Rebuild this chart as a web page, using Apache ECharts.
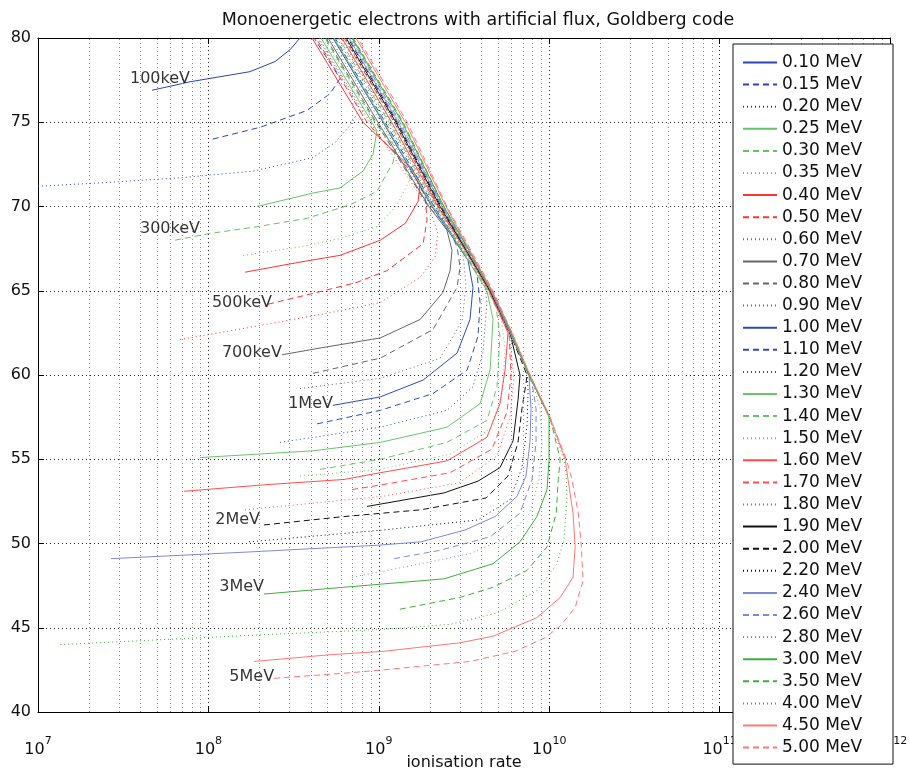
<!DOCTYPE html>
<html><head><meta charset="utf-8">
<script src="https://cdn.jsdelivr.net/npm/echarts@6/dist/echarts.min.js"></script>
<style>html,body{margin:0;padding:0;background:#fff}#c{width:909px;height:772px}</style>
</head><body><div id="c"></div>
<script>
// ---- data: [ionisation rate, altitude] ----
const energyNames = ['0.10 MeV','0.15 MeV','0.20 MeV','0.25 MeV','0.30 MeV','0.35 MeV','0.40 MeV','0.50 MeV','0.60 MeV','0.70 MeV','0.80 MeV','0.90 MeV','1.00 MeV','1.10 MeV','1.20 MeV','1.30 MeV','1.40 MeV','1.50 MeV','1.60 MeV','1.70 MeV','1.80 MeV','1.90 MeV','2.00 MeV','2.20 MeV','2.40 MeV','2.60 MeV','2.80 MeV','3.00 MeV','3.50 MeV','4.00 MeV','4.50 MeV','5.00 MeV'];

const c010 = [[4.67e7,76.9],[7.80e7,77.4],[1.75e8,78.0],[2.46e8,78.6],[3.01e8,79.3],[3.45e8,80]];
const c015 = [[1.06e8,74.0],[2.01e8,74.7],[3.79e8,75.7],[5.18e8,76.7],[5.92e8,77.6],[4.17e8,80]];
const c020 = [[1.00e7,71.2],[2.31e7,71.4],[6.81e7,71.7],[1.83e8,72.1],[4.11e8,72.9],[5.53e8,73.8],[6.78e8,74.8],[7.76e8,75.8],[4.40e8,80]];
const c025 = [[1.93e8,70.0],[4.11e8,70.8],[5.92e8,71.1],[8.07e8,72.1],[9.25e8,73.1],[9.75e8,74.5],[9.12e8,75],[4.58e8,80]];
const c030 = [[6.37e7,68.0],[1.02e8,68.4],[1.93e8,68.8],[3.79e8,69.3],[6.78e8,70.1],[9.75e8,70.9],[1.21e9,72.6],[1.26e9,73.5],[9.50e8,75],[4.83e8,80]];
const c035 = [[1.60e8,67.1],[3.45e8,67.6],[5.92e8,68.1],[9.75e8,68.8],[1.28e9,70.1],[1.52e9,71.6],[1.41e9,72.5],[9.38e8,75],[4.71e8,80]];
const c040 = [[1.64e8,66.1],[3.45e8,66.7],[5.92e8,67.1],[1.02e9,68.0],[1.43e9,69.0],[1.70e9,70.3],[1.75e9,71.4],[1.57e9,72.2],[1.19e9,73.4],[8.07e8,75],[4.06e8,80]];
const c050 = [[2.24e8,64.2],[4.34e8,64.9],[7.45e8,65.5],[1.12e9,66.2],[1.82e9,67.8],[1.92e9,69.2],[1.87e9,70.6],[1.63e9,71.8],[8.53e8,75],[4.28e8,80]];
const c060 = [[6.81e7,62.1],[1.69e8,62.8],[5.18e8,63.7],[1.02e9,64.3],[1.75e9,65.8],[2.14e9,67.0],[2.22e9,68.4],[2.00e9,69.8],[8.87e8,75],[4.46e8,80]];
const c070 = [[2.70e8,61.2],[4.52e8,61.6],[1.02e9,62.2],[1.75e9,63.3],[2.38e9,64.9],[2.62e9,66.2],[2.69e9,67.4],[2.51e9,68.6],[1.97e9,70],[9.89e8,75],[5.04e8,80]];
const c080 = [[4.11e8,60.1],[1.02e9,61.0],[2.08e9,62.7],[2.88e9,65.2],[3.00e9,66.4],[2.88e9,67.6],[2.55e9,68.8],[1.95e9,70],[9.64e8,75],[4.90e8,80]];
const c090 = [[3.45e8,59.2],[1.02e9,59.8],[2.29e9,61.0],[3.08e9,63.2],[3.25e9,65.3],[3.12e9,67.2],[2.80e9,68.6],[2.02e9,70],[1.03e9,75],[5.18e8,80]];
const c100 = [[5.38e8,58.2],[1.02e9,58.7],[1.82e9,59.7],[2.88e9,61.3],[3.43e9,63.3],[3.57e9,65.2],[3.34e9,66.8],[3.00e9,67.5],[2.05e9,70],[1.06e9,75],[5.38e8,80]];
const c110 = [[4.34e8,57.1],[1.02e9,57.9],[2.08e9,58.9],[3.30e9,60.3],[3.82e9,62.3],[3.93e9,64.3],[3.77e9,66.0],[3.03e9,67.5],[2.11e9,70],[1.09e9,75],[5.53e8,80]];
const c120 = [[2.63e8,56.0],[1.02e9,56.9],[2.51e9,57.9],[3.57e9,59.3],[4.08e9,61.3],[4.31e9,64.3],[4.14e9,65.8],[3.08e9,67.5],[2.14e9,70],[1.12e9,75],[5.69e8,80]];
const c130 = [[8.93e7,55.1],[4.11e8,55.5],[1.02e9,56.0],[2.51e9,56.9],[3.93e9,58.3],[4.50e9,60.3],[4.68e9,63.3],[4.31e9,65],[3.03e9,67.5],[2.08e9,70],[1.07e9,75],[5.46e8,80]];
const c140 = [[4.52e8,54.4],[1.02e9,55.0],[2.51e9,56.0],[4.31e9,57.3],[4.94e9,59.3],[5.14e9,62.3],[4.88e9,64.0],[4.37e9,65],[3.08e9,67.5],[2.17e9,70],[1.15e9,75],[5.83e8,80]];
const c150 = [[3.45e8,54.0],[1.02e9,54.4],[2.62e9,55.3],[4.50e9,56.8],[5.28e9,58.8],[5.51e9,61.5],[5.21e9,63.5],[4.37e9,65],[3.12e9,67.5],[2.20e9,70],[1.16e9,75],[6.00e8,80]];
const c160 = [[7.19e7,53.1],[2.24e8,53.5],[6.25e8,53.8],[1.02e9,54.2],[2.51e9,54.9],[4.31e9,56.3],[5.14e9,58.3],[5.51e9,60.3],[5.73e9,62.5],[4.44e9,65],[3.16e9,67.5],[2.22e9,70],[1.19e9,75],[6.08e8,80]];
const c170 = [[6.97e8,53.2],[1.06e9,53.5],[2.62e9,54.2],[4.61e9,55.6],[5.65e9,57.8],[5.97e9,60.0],[5.81e9,62.5],[4.44e9,65],[3.21e9,67.5],[2.25e9,70],[1.23e9,75],[6.25e8,80]];
const c180 = [[1.64e8,52.0],[1.06e9,52.8],[2.96e9,53.6],[4.94e9,55.2],[5.89e9,57.5],[6.21e9,59.8],[5.81e9,62.5],[4.44e9,65],[3.16e9,67.5],[2.20e9,70],[1.18e9,75],[6.00e8,80]];
const c190 = [[8.53e8,52.2],[2.41e9,53.0],[3.82e9,53.7],[5.14e9,54.5],[6.14e9,56.1],[6.56e9,58.5],[6.74e9,60.0],[5.89e9,62.5],[4.50e9,65],[3.21e9,67.5],[2.29e9,70],[1.26e9,75],[6.43e8,80]];
const c200 = [[2.12e8,51.1],[6.25e8,51.6],[1.77e9,52.0],[4.26e9,52.7],[5.73e9,54.0],[6.56e9,56.0],[6.92e9,58.0],[7.31e9,59.5],[7.41e9,60],[5.89e9,62.5],[4.50e9,65],[3.25e9,67.5],[2.32e9,70],[1.28e9,75],[6.59e8,80]];
const c220 = [[1.73e8,50.1],[1.06e9,50.8],[3.82e9,51.4],[5.89e9,52.6],[6.92e9,54.5],[7.41e9,57.0],[7.52e9,59.0],[7.41e9,60.3],[5.81e9,62.5],[4.50e9,65],[3.21e9,67.5],[2.25e9,70],[1.24e9,75],[6.34e8,80]];
const c240 = [[2.68e7,49.1],[1.75e8,49.5],[1.00e9,49.9],[1.77e9,50.1],[3.21e9,50.8],[4.81e9,51.6],[6.47e9,52.8],[7.31e9,54.0],[7.71e9,56.0],[7.82e9,58.0],[7.61e9,60],[5.89e9,62.5],[4.55e9,65],[3.25e9,67.5],[2.35e9,70],[1.30e9,75],[6.68e8,80]];
const c260 = [[1.23e9,49.1],[2.29e9,49.6],[4.50e9,50.4],[6.74e9,51.8],[7.93e9,53.8],[8.37e9,56.0],[8.37e9,58.0],[7.93e9,59.5],[5.97e9,62.5],[4.55e9,65],[3.30e9,67.5],[2.38e9,70],[1.33e9,75],[6.87e8,80]];
const c280 = [[6.97e8,48.0],[1.77e9,48.8],[3.43e9,49.4],[5.51e9,50.3],[7.71e9,51.8],[8.71e9,53.8],[9.08e9,56.0],[8.83e9,58.0],[8.04e9,59.5],[5.89e9,62.5],[4.55e9,65],[3.30e9,67.5],[2.35e9,70],[1.32e9,75],[6.78e8,80]];
const c300 = [[2.12e8,47.0],[1.06e9,47.6],[2.41e9,47.9],[4.68e9,48.8],[6.74e9,50.1],[8.47e9,51.6],[9.71e9,53.2],[9.98e9,55.0],[9.98e9,57.5],[7.61e9,60],[5.97e9,62.5],[4.61e9,65],[3.34e9,67.5],[2.41e9,70],[1.37e9,75],[6.97e8,80]];
const c350 = [[1.33e9,46.1],[3.00e9,46.8],[4.68e9,47.4],[7.41e9,48.4],[9.71e9,49.8],[1.10e10,51.8],[1.13e10,53.8],[1.16e10,55.0],[1.01e10,57.5],[7.61e9,60],[5.97e9,62.5],[4.61e9,65],[3.34e9,67.5],[2.41e9,70],[1.39e9,75],[7.06e8,80]];
const c400 = [[1.35e7,44.0],[2.24e8,44.6],[1.06e9,44.9],[2.62e9,45.2],[5.01e9,45.9],[8.47e9,47.2],[1.11e10,48.8],[1.22e10,50.2],[1.27e10,52.6],[1.26e10,54.0],[1.22e10,55],[9.98e9,57.5],[7.61e9,60],[5.97e9,62.5],[4.55e9,65],[3.30e9,67.5],[2.38e9,70],[1.35e9,75],[6.97e8,80]];
const c450 = [[1.85e8,43.0],[5.18e8,43.4],[1.06e9,43.6],[2.96e9,44.1],[4.68e9,44.5],[8.47e9,45.6],[1.16e10,46.8],[1.38e10,48.0],[1.42e10,49.8],[1.38e10,51.8],[1.29e10,53.8],[1.24e10,55],[1.01e10,57.5],[7.71e9,60],[6.05e9,62.5],[4.61e9,65],[3.38e9,67.5],[2.48e9,70],[1.43e9,75],[7.35e8,80]];
const c500 = [[2.43e8,42.0],[6.25e8,42.3],[1.06e9,42.5],[3.43e9,43.0],[6.30e9,43.6],[9.44e9,44.4],[1.16e10,45.1],[1.42e10,46.2],[1.58e10,47.8],[1.54e10,50.0],[1.48e10,51.8],[1.36e10,53.8],[1.26e10,55],[1.01e10,57.5],[7.71e9,60],[6.05e9,62.5],[4.68e9,65],[3.43e9,67.5],[2.51e9,70],[1.47e9,75],[7.55e8,80]];

const curves = [c010,c015,c020,c025,c030,c035,c040,c050,c060,c070,c080,c090,c100,c110,c120,c130,c140,c150,c160,c170,c180,c190,c200,c220,c240,c260,c280,c300,c350,c400,c450,c500];

// in-plot annotations: text, rate at right end of text, altitude
const labelTexts = ['100keV','300keV','500keV','700keV','1MeV','2MeV','3MeV','5MeV'];
const labelRates = [7.8e7, 8.93e7, 2.36e8, 2.70e8, 5.38e8, 2.01e8, 2.12e8, 2.43e8];
const labelAlts  = [77.6, 68.7, 64.3, 61.3, 58.3, 51.4, 47.4, 42.1];

const xTickExponents = [7, 8, 9, 10, 11, 12];
const yTicks = [40, 45, 50, 55, 60, 65, 70, 75, 80];

// ---- styles ----
const FONT = 'DejaVu Sans';
const groupColors = ['#2b44b8','#66c266','#ff3333','#666666','#2f4cb5','#6cc36c','#ff4d4d','#111111','#7f89d6','#3fae3f','#ff7777'];
const dashes = ['solid', [6,4], [1,3]];

const series = curves.map((d, i) => ({
  name: energyNames[i],
  type: 'line',
  data: d,
  symbol: 'none',
  showSymbol: false,
  smooth: false,
  clip: true,
  lineStyle: { width: 1, color: groupColors[Math.floor(i/3)], type: dashes[i%3] },
  itemStyle: { color: groupColors[Math.floor(i/3)] },
  emphasis: { disabled: true },
  z: 3
}));

// minor vertical grid (2..9 x 10^n)
const minorGrid = [];
for (let e = 7; e < 12; e++) for (let m = 2; m <= 9; m++) minorGrid.push({ xAxis: m * Math.pow(10, e) });

series.push({
  type: 'line', data: [], silent: true, z: 1,
  markLine: { silent: true, symbol: 'none', animation: false, label: { show: false },
    lineStyle: { color: '#8a8a8a', width: 1, type: [1,3] }, data: minorGrid }
});

series.push({
  type: 'scatter', silent: true, z: 5, symbolSize: 0,
  data: labelTexts.map((t, i) => [labelRates[i], labelAlts[i], t]),
  label: { show: true, position: 'left', distance: 0, formatter: p => p.data[2],
    fontFamily: FONT, fontSize: 16, color: '#000' }
});

const expSet = new Set(xTickExponents);
const chart = echarts.init(document.getElementById('c'), null, { renderer: 'canvas' });
chart.setOption({
  animation: false,
  backgroundColor: '#fff',
  title: { text: 'Monoenergetic electrons with artificial flux, Goldberg code', left: 473, top: 6, textAlign: 'center',
    textStyle: { fontFamily: FONT, fontSize: 17.5, fontWeight: 'normal', color: '#111' } },
  grid: { left: 38, right: 19, top: 38, bottom: 60, containLabel: false, outerBoundsMode: 'none' },
  legend: {
    data: energyNames, orient: 'vertical', left: 733, top: 44, selectedMode: false,
    itemWidth: 34, itemHeight: 14, itemGap: 5.1,
    padding: [10, 31, 8, 9],
    backgroundColor: '#fff', borderColor: '#111', borderWidth: 1,
    itemStyle: { opacity: 0, borderWidth: 0 },
    textStyle: { fontFamily: FONT, fontSize: 17, color: '#111' },
    z: 10
  },
  xAxis: [{
    type: 'log', logBase: 10, min: 1e7, max: 1e12,
    name: 'ionisation rate', nameLocation: 'middle', nameGap: 43, nameMoveOverlap: false,
    nameTextStyle: { fontFamily: FONT, fontSize: 16, color: '#111' },
    axisLine: { show: true, onZero: false, lineStyle: { color: '#000', width: 1 } },
    axisTick: { show: true, inside: true, length: 6, lineStyle: { color: '#000' } },
    splitLine: { show: true, lineStyle: { color: '#222', width: 1, type: [1,3] } },
    axisLabel: {
      margin: 24,
      formatter: v => { const e = Math.round(Math.log10(v)); return expSet.has(e) ? '{b|10}{e|' + e + '}' : ''; },
      rich: {
        b: { fontFamily: FONT, fontSize: 16, color: '#111' },
        e: { fontFamily: FONT, fontSize: 11, color: '#111', padding: [0, 0, 16, 0] }
      }
    }
  }, {
    type: 'log', logBase: 10, min: 1e7, max: 1e12, position: 'top',
    axisLine: { show: true, onZero: false, lineStyle: { color: '#000', width: 1 } },
    axisTick: { show: true, inside: true, length: 6, lineStyle: { color: '#000' } },
    axisLabel: { show: false }, splitLine: { show: false }
  }],
  yAxis: [{
    type: 'value', min: yTicks[0], max: yTicks[yTicks.length-1], interval: 5,
    axisLine: { show: true, onZero: false, lineStyle: { color: '#000', width: 1 } },
    axisTick: { show: true, inside: true, length: 6, lineStyle: { color: '#000' } },
    splitLine: { show: true, lineStyle: { color: '#222', width: 1, type: [1,3] } },
    axisLabel: { margin: 7, fontFamily: FONT, fontSize: 16, color: '#111' }
  }, {
    type: 'value', min: yTicks[0], max: yTicks[yTicks.length-1], interval: 5, position: 'right',
    axisLine: { show: true, onZero: false, lineStyle: { color: '#000', width: 1 } },
    axisTick: { show: true, inside: true, length: 6, lineStyle: { color: '#000' } },
    axisLabel: { show: false }, splitLine: { show: false }
  }],
  series: series
});
</script>
</body></html>
